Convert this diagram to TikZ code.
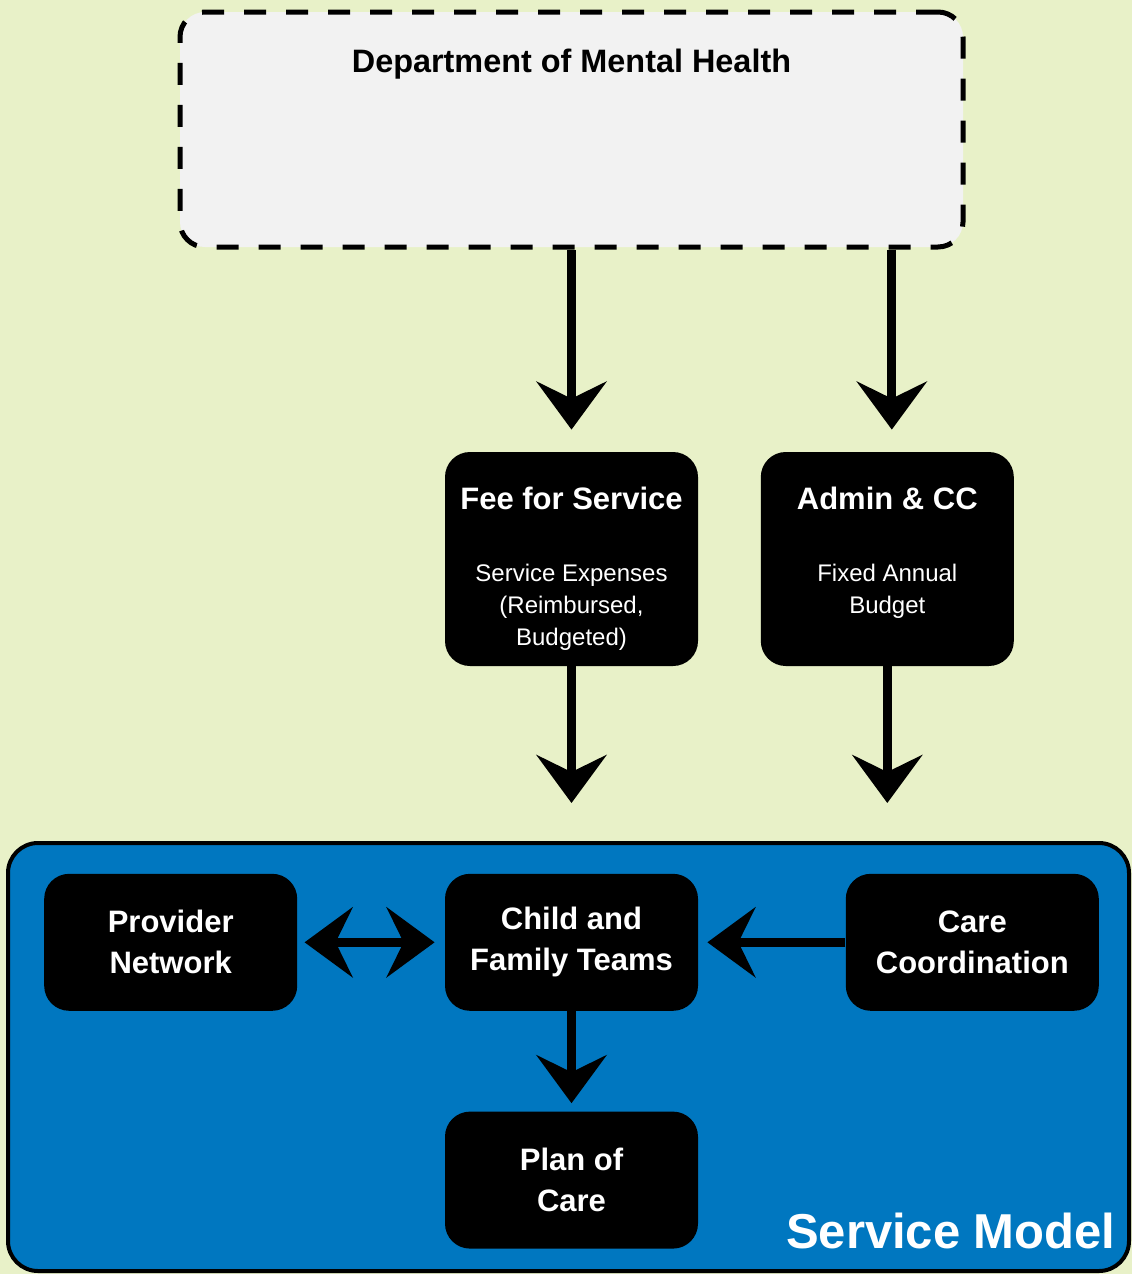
\documentclass[tikz,border=0pt]{standalone}
\usepackage{fontspec}
\setmainfont{Liberation Sans}
\usetikzlibrary{arrows.meta, positioning}
\definecolor{paleolive}{RGB}{232,241,200}
\definecolor{deptgray}{RGB}{242,242,242}
\definecolor{modelblue}{RGB}{0,119,192}

\begin{document}
\begin{tikzpicture}[
  x=0.5pt, y=-0.5pt,
  >={Stealth[length=24pt, width=35pt, inset=8.5pt]},
  dept/.style={rectangle, rounded corners=12.5pt, draw, line width=2.5pt, dash pattern=on 11pt off 10pt, fill=deptgray, minimum width=391.5pt, minimum height=117.5pt},
  region/.style={rectangle, rounded corners=15pt, draw, line width=2pt, fill=modelblue, minimum width=560.5pt, minimum height=214pt},
  fund/.style={rectangle, rounded corners=12.5pt, fill=black, text=white, minimum width=126.5pt, minimum height=107pt, align=center, font=\fontsize{12}{16}\selectfont},
  unit/.style={rectangle, rounded corners=12.5pt, fill=black, text=white, minimum width=126.5pt, minimum height=68.5pt, align=center, font=\bfseries\fontsize{15.5}{20.5}\selectfont},
  flow/.style={line width=4.5pt, ->}
]
  % canvas
  \fill[paleolive] (0,0) rectangle (1132,1274);
  \useasboundingbox (0,0) rectangle (1132,1274);

  % department and service model frames
  \node[dept] (dmh) at (571.5,129.5) {};
  \node[font=\bfseries\fontsize{16.2}{19}\selectfont, anchor=north] (dmhtitle) at ([yshift=-16pt]dmh.north) {Department of Mental Health};
  \node[region] (model) at (568.5,1057) {};
  \node[font=\bfseries\fontsize{24.5}{30}\selectfont, text=white, anchor=base east, inner sep=0pt] (modeltitle) at ([xshift=-7.5pt, yshift=12.5pt]model.south east) {Service Model};

  % funding streams
  \node[fund] (fee) at (571.5,559) {{\bfseries\fontsize{15.5}{19}\selectfont\rule{0pt}{21pt}Fee for Service}\\[20pt]Service Expenses\\(Reimbursed,\\Budgeted)};
  \node[fund, right=31pt of fee] (admin) {{\bfseries\fontsize{15.5}{19}\selectfont\rule{0pt}{18pt}Admin \& CC}\\[20pt]Fixed Annual\\Budget\\\mbox{}};

  % service model
  \node[unit, below=103.5pt of fee] (cft) {Child and\\Family Teams};
  \node[unit, left=73.5pt of cft] (provider) {Provider\\Network};
  \node[unit, right=73.5pt of cft] (care) {Care\\Coordination};
  \node[unit, below=50pt of cft] (plan) {Plan of\\Care};

  % Arrows
  \draw[flow, shorten >=11pt] (dmh.south -| fee.north) -- (fee.north);
  \draw[flow, shorten >=11pt] ([xshift=2.25pt]dmh.south -| admin.north) -- ([xshift=2.25pt]admin.north);
  \draw[flow, shorten >=19pt] (fee.south) -- (fee.south |- model.north);
  \draw[flow, shorten >=19pt] (admin.south) -- (admin.south |- model.north);

  \draw[flow, <->, shorten <=3.5pt, shorten >=5pt] (provider) -- (cft);
  \draw[flow, shorten >=4.5pt] (care) -- (cft);
  \draw[flow, shorten >=4pt] (cft) -- (plan);
\end{tikzpicture}
\end{document}
